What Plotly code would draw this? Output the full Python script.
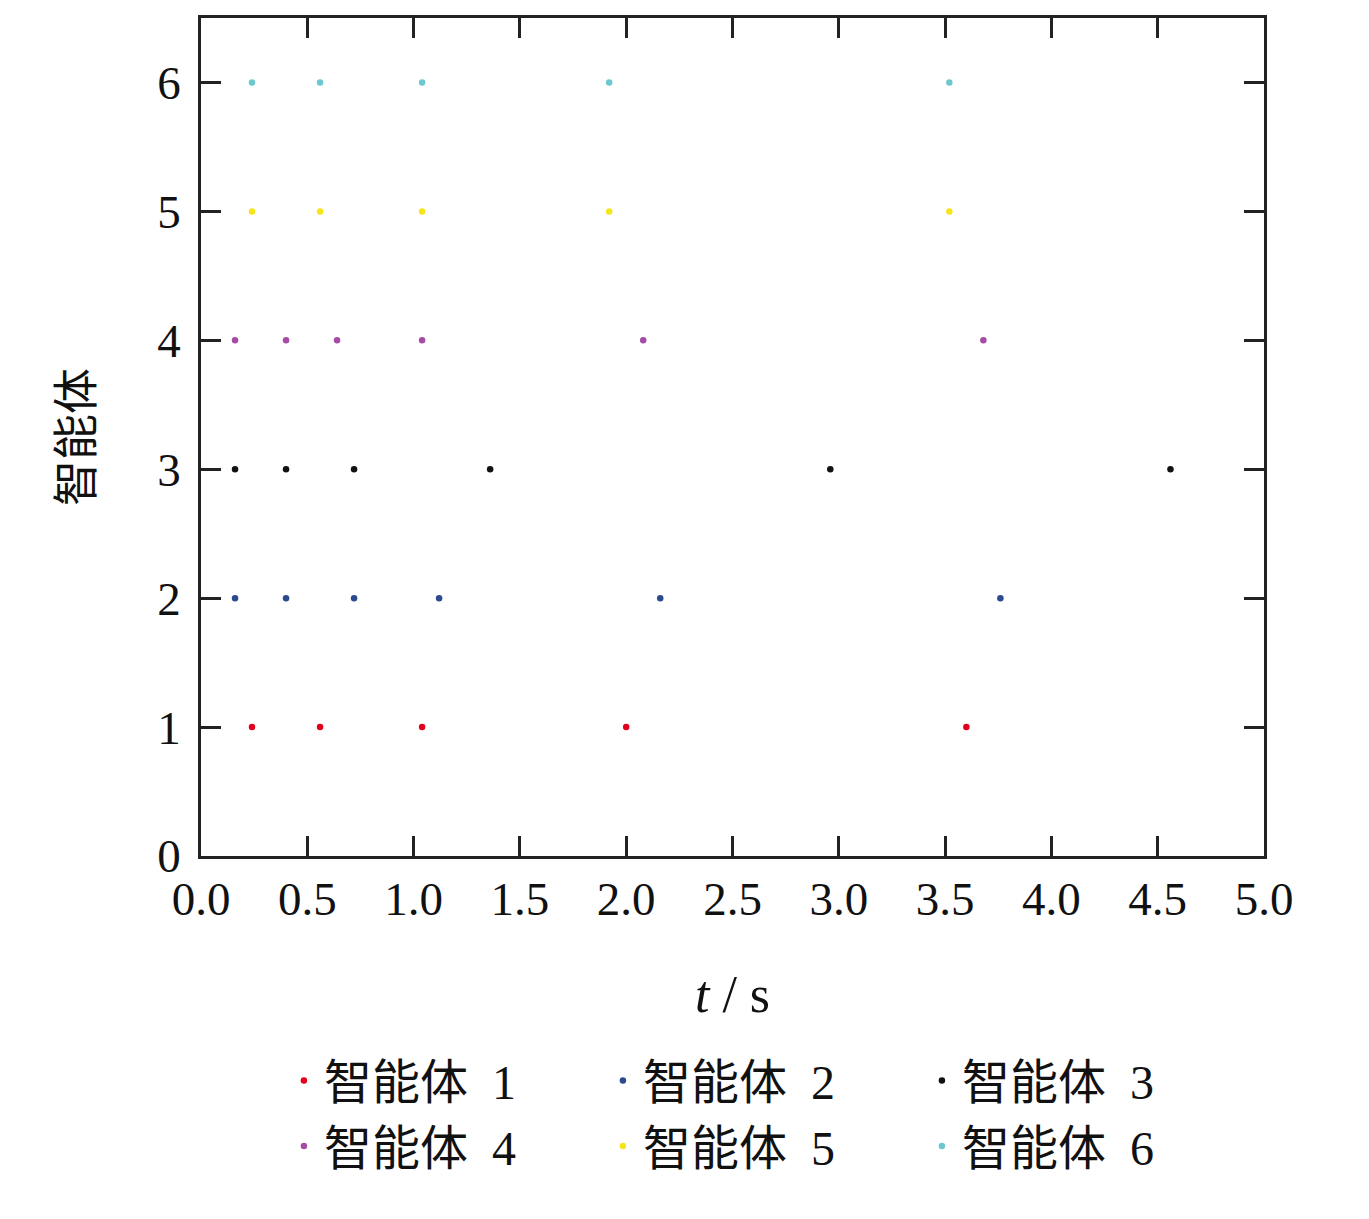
import plotly.graph_objects as go

# event times for each agent (s)
agent_names = ['智能体\u00a0\u00a01', '智能体\u00a0\u00a02', '智能体\u00a0\u00a03',
               '智能体\u00a0\u00a04', '智能体\u00a0\u00a05', '智能体\u00a0\u00a06']
agent_ids = [1, 2, 3, 4, 5, 6]
t_agent1 = [0.24, 0.56, 1.04, 2.00, 3.60]
t_agent2 = [0.16, 0.40, 0.72, 1.12, 2.16, 3.76]
t_agent3 = [0.16, 0.40, 0.72, 1.36, 2.96, 4.56]
t_agent4 = [0.16, 0.40, 0.64, 1.04, 2.08, 3.68]
t_agent5 = [0.24, 0.56, 1.04, 1.92, 3.52]
t_agent6 = [0.24, 0.56, 1.04, 1.92, 3.52]
all_times = [t_agent1, t_agent2, t_agent3, t_agent4, t_agent5, t_agent6]
colors = ['#e2001a', '#2c4a90', '#111111', '#a64ca6', '#f4e51c', '#6cc8d0']

x_ticks = [0.0, 0.5, 1.0, 1.5, 2.0, 2.5, 3.0, 3.5, 4.0, 4.5, 5.0]
y_ticks = [0, 1, 2, 3, 4, 5, 6]

serif = "Liberation Serif, Times New Roman, Noto Sans CJK SC"

fig = go.Figure()
for name, aid, times, col in zip(agent_names, agent_ids, all_times, colors):
    fig.add_trace(go.Scatter(x=times, y=[aid]*len(times), mode='markers', name=name,
                             marker=dict(color=col, size=6.5)))

axis_style = dict(showline=True, linewidth=2.5, linecolor='#222', mirror='ticks',
                  ticks='inside', ticklen=20, tickwidth=2.5, tickcolor='#222',
                  showgrid=False, zeroline=False,
                  tickfont=dict(family=serif, size=47, color='#111'))

fig.update_xaxes(range=[0, 5], tickvals=x_ticks, ticktext=['%.1f' % v for v in x_ticks],
                 title=dict(text='<i>t</i> / s', font=dict(family=serif, size=52, color='#111'), standoff=52),
                 **axis_style)
fig.update_yaxes(range=[0, 6.5], tickvals=y_ticks, ticktext=[str(v) for v in y_ticks],
                 title=dict(text='智能体', font=dict(family=serif, size=46, color='#111'), standoff=51),
                 ticklabelstandoff=8,
                 **axis_style)

fig.update_layout(width=1369, height=1219,
                  margin=dict(l=193, r=113, t=10, b=371, autoexpand=False),
                  paper_bgcolor='white', plot_bgcolor='white',
                  legend=dict(orientation='h', x=0.078, xanchor='left', y=-0.223, yanchor='top',
                              entrywidth=274, itemwidth=30, tracegroupgap=0,
                              font=dict(family=serif, size=48, color='#111')),
                  showlegend=True)

fig.write_html("out.html")
